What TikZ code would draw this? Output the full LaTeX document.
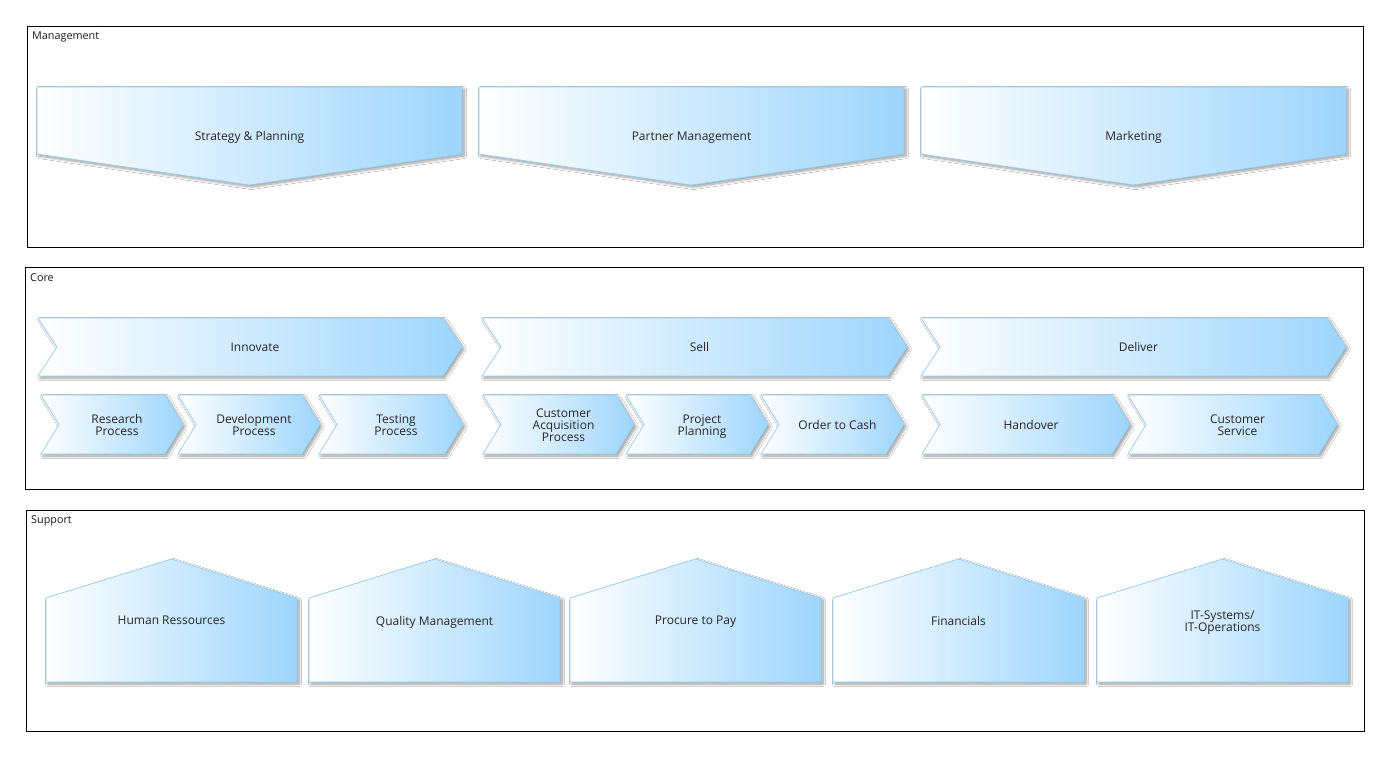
\documentclass[tikz,border=0pt]{standalone}
\usepackage{fontspec}
\setmainfont{Open Sans}
\usetikzlibrary{shadows.blur}
\definecolor{fillblue}{RGB}{158,213,252}
\definecolor{edgeblue}{RGB}{150,205,245}
\tikzset{
  procshape/.style={draw=edgeblue, line width=0.7pt, left color=white, right color=fillblue,
    blur shadow={shadow xshift=2pt, shadow yshift=-2pt, shadow blur steps=10,
      shadow blur radius=2.5pt, shadow opacity=40}},
  lbl/.style={font=\fontsize{12}{12}\selectfont, align=center, text=black!85, inner sep=0pt,
    execute at begin node={\strut}, execute at end node={\strut}},
  panel/.style={draw=black, line width=0.9pt, anchor=north west, inner sep=0pt},
  paneltitle/.style={font=\fontsize{10.8}{12}\selectfont, anchor=north west, inner sep=0pt, text=black!90}
}
% downward pentagon: name, left x, right x, text
\newcommand\mgmtshape[4]{%
  \path[procshape] (#2,87) -- (#3,87) -- (#3,154) -- ({(#2+#3)/2},185) -- (#2,154) -- cycle;
  \node[lbl] (#1) at ({(#2+#3)/2},138) {#4};}
% chevron: name, left x, right x, top y, bottom y, depth, text
\newcommand\chev[7]{%
  \path[procshape] (#2,#4) -- ({#3-#6},#4) -- (#3,{(#4+#5)/2}) -- ({#3-#6},#5) -- (#2,#5)
    -- ({#2+#6},{(#4+#5)/2}) -- cycle;
  \node[lbl] (#1) at ({(#2+#3)/2+5},{(#4+#5)/2+2}) {#7};}
% house shape: name, left x, right x, text
\newcommand\house[4]{%
  \path[procshape] (#2,598) -- ({(#2+#3)/2},559) -- (#3,598) -- (#3,682) -- (#2,682) -- cycle;
  \node[lbl] (#1) at ({(#2+#3)/2},622.5) {#4};}
\begin{document}
\begin{tikzpicture}[x=1pt,y=-1pt]
  \useasboundingbox[fill=white] (0,0) rectangle (1389,756);

  % panels
  \node[panel, minimum width=1336pt, minimum height=221pt] (mgmt) at (27,26) {};
  \node[paneltitle] (mgmttitle) at (32,32) {Management};
  \node[panel, minimum width=1338pt, minimum height=222pt] (core) at (25,267) {};
  \node[paneltitle] (coretitle) at (30,273) {Core};
  \node[panel, minimum width=1338pt, minimum height=221pt] (supp) at (26,510) {};
  \node[paneltitle] (supptitle) at (31,515) {Support};

  % management processes
  \mgmtshape{strategy}{37}{462}{Strategy \& Planning}
  \mgmtshape{partner}{479}{904}{Partner Management}
  \mgmtshape{marketing}{921}{1346}{Marketing}

  % core value chain
  \chev{innovate}{38}{462}{318}{376}{19}{Innovate}
  \chev{sell}{482}{907}{318}{376}{19}{Sell}
  \chev{deliver}{921}{1346}{318}{376}{19}{Deliver}

  \chev{research}{41}{183}{395}{454}{18}{Research\\Process}
  \chev{develop}{178}{320}{395}{454}{18}{Development\\Process}
  \chev{testing}{319}{463}{395}{454}{18}{Testing\\Process}
  \chev{acquis}{483}{634}{395}{454}{18}{Customer\\Acquisition\\Process}
  \chev{projplan}{626}{768}{395}{454}{18}{Project\\Planning}
  \chev{o2c}{761}{904}{395}{454}{18}{Order to Cash}
  \chev{handover}{922}{1130}{395}{454}{18}{Handover}
  \chev{custserv}{1128}{1337}{395}{454}{18}{Customer\\Service}

  % support processes
  \house{hr}{46}{297}{Human Ressources}
  \house{quality}{309}{560}{Quality Management}
  \house{p2p}{570}{821}{Procure to Pay}
  \house{fin}{833}{1084}{Financials}
  \house{itsys}{1097}{1348}{IT-Systems/\\IT-Operations}
\end{tikzpicture}
\end{document}
